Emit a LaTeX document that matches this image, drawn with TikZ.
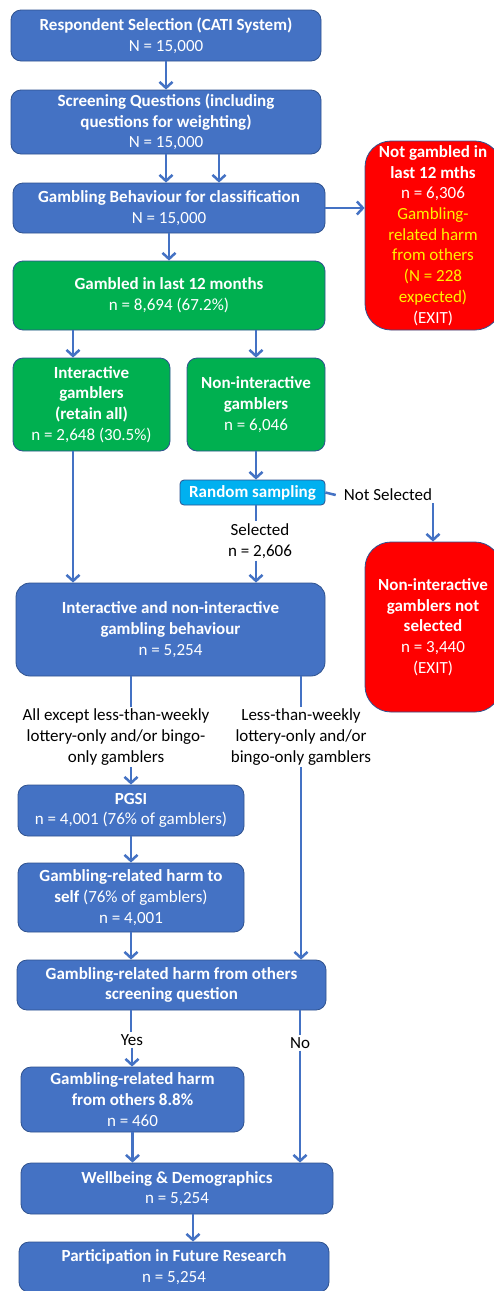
\documentclass[tikz,border=0pt]{standalone}
\usepackage{fontspec}
\setmainfont{Carlito}
\usetikzlibrary{arrows.meta}
\definecolor{boxblue}{HTML}{4472C4}
\definecolor{edgeblue}{HTML}{2F528F}
\definecolor{boxgreen}{HTML}{00B050}
\definecolor{boxcyan}{HTML}{00B0F0}
\begin{document}
\begin{tikzpicture}[x=1pt, y=-1pt,
	every node/.style={font=\fontsize{17}{20.7}\selectfont, align=center},
	box/.style={draw=edgeblue, line width=0.8pt, fill=boxblue, text=white, rounded corners=10pt, inner sep=2pt},
	gbox/.style={box, fill=boxgreen},
	rbox/.style={box, fill=red, rounded corners=26pt},
	lbl/.style={inner sep=2pt, text=black},
	ln/.style={draw=boxblue, line width=2.5pt},
	arr/.style={ln, -{Straight Barb[length=6pt,width=13pt]}}]
	\path[use as bounding box, fill=white] (0,0) rectangle (493,1291);
	\coordinate (laneA) at (73,0);
	\coordinate (laneB) at (256,0);
	\coordinate (laneL) at (131,0);
	\coordinate (laneR) at (301,0);
	\node[box, minimum width=310pt, minimum height=51pt] (resp) at (166,35.5) {\textbf{Respondent Selection (CATI System)}\\N = 15,000};
	\node[box, minimum width=310pt, minimum height=64pt] (screen) at (166,122) {\textbf{Screening Questions (including}\\\textbf{questions for weighting)}\\N = 15,000};
	\node[box, minimum width=312pt, minimum height=50pt] (behav) at (169,208) {\textbf{Gambling Behaviour for classification}\\N = 15,000};
	\node[rbox, minimum width=136pt, minimum height=189pt] (notgam) at (433,235.5) {\textbf{Not gambled in}\\\textbf{last 12 mths}\\n = 6,306\\\textcolor{yellow}{Gambling-}\\\textcolor{yellow}{related harm}\\\textcolor{yellow}{from others}\\\textcolor{yellow}{(N = 228}\\\textcolor{yellow}{expected)}\\(EXIT)};
	\node[gbox, minimum width=312pt, minimum height=69pt] (gamb12) at (169,295.5) {\textbf{Gambled in last 12 months}\\n = 8,694 (67.2\%)};
	\node[gbox, minimum width=157pt, minimum height=93pt] (inter) at (91.5,404.5) {\textbf{Interactive}\\\textbf{gamblers}\\\textbf{(retain all)}\\n = 2,648 (30.5\%)};
	\node[gbox, minimum width=138pt, minimum height=93pt] (nonint) at (256,404.5) {\textbf{Non-interactive}\\\textbf{gamblers}\\n = 6,046};
	\node[box, fill=boxcyan, rounded corners=4pt, minimum width=145pt, minimum height=25pt, inner sep=1pt] (random) at (252.5,492.5) {\textbf{Random sampling}};
	\node[lbl] (unsel) at (388,495) {Not Selected};
	\node[lbl] (sel) at (260,541) {Selected\\n = 2,606};
	\node[rbox, minimum width=136pt, minimum height=170pt] (dropped) at (433,627) {\textbf{Non-interactive}\\\textbf{gamblers not}\\\textbf{selected}\\n = 3,440\\(EXIT)};
	\node[box, minimum width=309pt, minimum height=93pt, rounded corners=14pt] (both) at (170.5,629.5) {\textbf{Interactive and non-interactive}\\\textbf{gambling behaviour}\\n = 5,254};
	\node[lbl] (lblL) at (116,737) {All except less-than-weekly\\lottery-only and/or bingo-\\only gamblers};
	\node[lbl] (lblR) at (301,737) {Less-than-weekly\\lottery-only and/or\\bingo-only gamblers};
	\node[box, minimum width=226pt, minimum height=51pt] (pgsi) at (131,810.5) {\textbf{PGSI}\\n = 4,001 (76\% of gamblers)};
	\node[box, minimum width=226pt, minimum height=69pt] (self) at (131,897.5) {\textbf{Gambling-related harm to}\\\textbf{self} (76\% of gamblers)\\n = 4,001};
	\node[box, minimum width=309pt, minimum height=50pt] (harmq) at (171.5,985) {\textbf{Gambling-related harm from others}\\\textbf{screening question}};
	\node[lbl] (yes) at (132,1040) {Yes};
	\node[lbl] (no) at (300,1043) {No};
	\node[box, minimum width=223pt, minimum height=65pt] (others) at (132.5,1099.5) {\textbf{Gambling-related harm}\\\textbf{from others 8.8\%}\\n = 460};
	\node[box, minimum width=312pt, minimum height=51pt] (wellb) at (177,1188.5) {\textbf{Wellbeing \& Demographics}\\n = 5,254};
	\node[box, minimum width=310pt, minimum height=50pt] (future) at (174,1267) {\textbf{Participation in Future Research}\\n = 5,254};
	\draw[arr] (resp) -- (screen);
	\draw[arr] (screen.south) -- (screen.south |- behav.north);
	\draw[arr] ([xshift=53pt]screen.south) -- ([xshift=53pt]screen.south |- behav.north);
	\draw[arr] (behav.east) -- (behav.east -| notgam.west);
	\draw[arr] (behav) -- (gamb12);
	\draw[arr] (laneA |- gamb12.south) -- (laneA |- inter.north);
	\draw[arr] (laneB |- gamb12.south) -- (laneB |- nonint.north);
	\draw[arr] (laneB |- nonint.south) -- (laneB |- random.north);
	\draw[ln] (random.east) -- ([xshift=-6pt]unsel.west);
	\draw[arr] (unsel.south -| dropped.north) -- (dropped.north);
	\draw[ln] (laneB |- random.south) -- (laneB |- sel.north);
	\draw[arr] (laneB |- sel.south) -- (laneB |- both.north);
	\draw[arr] (laneA |- inter.south) -- (laneA |- both.north);
	\draw[ln] (laneL |- both.south) -- (laneL |- lblL.north);
	\draw[arr] (laneL |- lblL.south) -- (laneL |- pgsi.north);
	\draw[ln] (laneR |- both.south) -- (laneR |- lblR.north);
	\draw[arr] (laneR |- lblR.south) -- (laneR |- harmq.north);
	\draw[arr] (pgsi) -- (self);
	\draw[arr] (self.south) -- (self.south |- harmq.north);
	\draw[ln] (laneL |- harmq.south) -- (laneL |- yes.north);
	\draw[arr] (yes.south) -- (yes.south |- others.north);
	\draw[ln] (no.north |- harmq.south) -- (no.north);
	\draw[arr] (no.south) -- (no.south |- wellb.north);
	\draw[arr] (others.south) -- (others.south |- wellb.north);
	\draw[arr] ([xshift=16pt]wellb.south) -- ([xshift=16pt]wellb.south |- future.north);
\end{tikzpicture}
\end{document}
